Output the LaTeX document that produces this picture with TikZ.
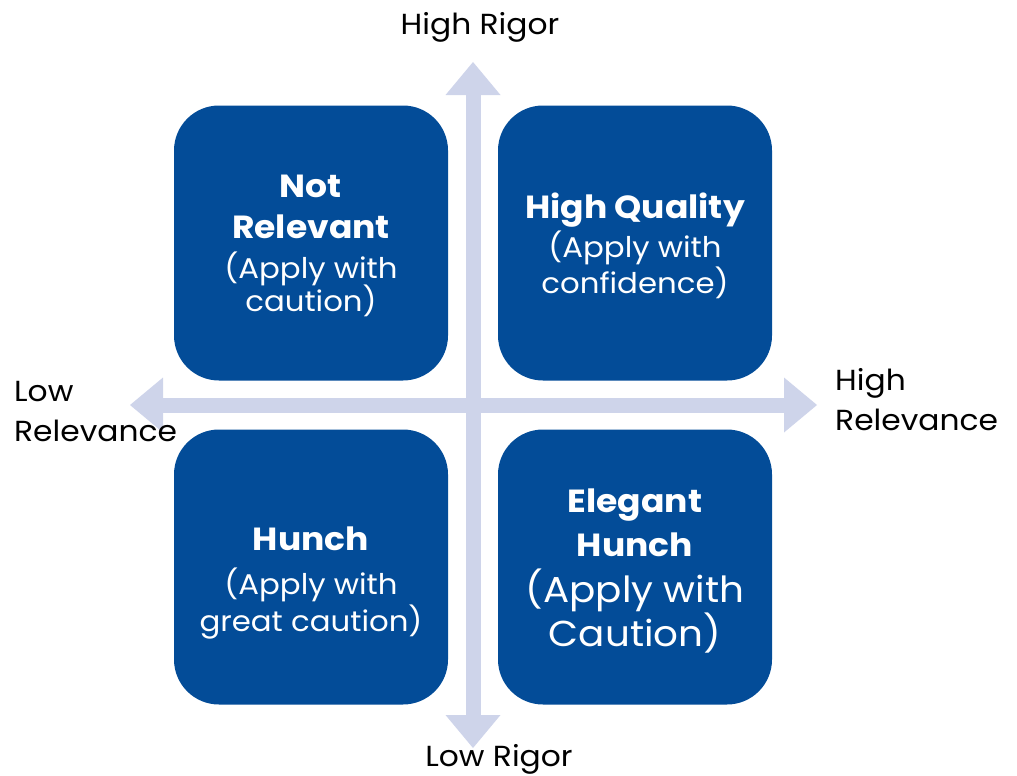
\documentclass[tikz,border=0pt]{standalone}
\usepackage{fontspec}
\setmainfont{Poppins}[FakeStretch=1.08]
\usetikzlibrary{arrows.meta}

\definecolor{quadblue}{HTML}{034C98}
\definecolor{axisblue}{HTML}{CED4EA}

\newcommand{\headfont}{\fontsize{32}{34}\selectfont\bfseries}
\newcommand{\notefont}{\fontsize{28.5}{34}\selectfont\mdseries}
\newcommand{\bignotefont}{\fontsize{36}{34}\selectfont\mdseries}

\tikzset{
  quad/.style={fill=quadblue, rounded corners=45pt, minimum width=274pt,
    minimum height=275pt, inner sep=0pt},
  quadtext/.style={text=white, align=center, inner sep=0pt,
    font=\fontsize{28.5}{34}\selectfont},
  axis/.style={draw=axisblue, line width=15pt,
    {Triangle[width=55pt,length=33pt,line width=0pt]}-{Triangle[width=55pt,length=33pt,line width=0pt]}},
  axislabel/.style={font=\fontsize{29}{40}\selectfont, align=left, inner sep=0pt},
}

\begin{document}
\begin{tikzpicture}[x=1pt,y=-1pt]
\useasboundingbox (0,0) rectangle (1017,776);

\coordinate (top) at (473,62);
\coordinate (bottom) at (473,748);
\coordinate (left) at (130,405);
\coordinate (right) at (817,405);

% quadrants
\node[quad] (notrel) at (311,243) {};
\node[quad] (highq) at (635,243) {};
\node[quad] (hunch) at (311,567) {};
\node[quad] (elegant) at (635,567) {};

\node[quadtext] (notreltxt) at (311,246) {\headfont Not\\[7pt]\headfont Relevant\\[6pt]\notefont (Apply with\\[-2pt]\notefont caution)};
\node[quadtext] (highqtxt) at (635,246) {\headfont High Quality\\[3pt]\notefont (Apply with\\[1pt]\notefont confidence)};
\node[quadtext] (hunchtxt) at (311,583) {\headfont Hunch\\[10pt]\notefont (Apply with\\[2pt]\notefont great caution)};
\node[quadtext] (eleganttxt) at (635,571) {\headfont Elegant\\[10pt]\headfont Hunch\\[12pt]\bignotefont (Apply with\\[1pt]\bignotefont Caution)};

% axes
\draw[axis] (bottom) -- (top);
\draw[axis] (left) -- (right);

\node[axislabel] (hirig) at (480,27) {High Rigor};
\node[axislabel] (lorig) at (499,759) {Low Rigor};
\node[axislabel, anchor=west] (lorel) at (14,412) {Low\\Relevance};
\node[axislabel, anchor=west] (hirel) at (835,400) {High\\Relevance};

\end{tikzpicture}
\end{document}
